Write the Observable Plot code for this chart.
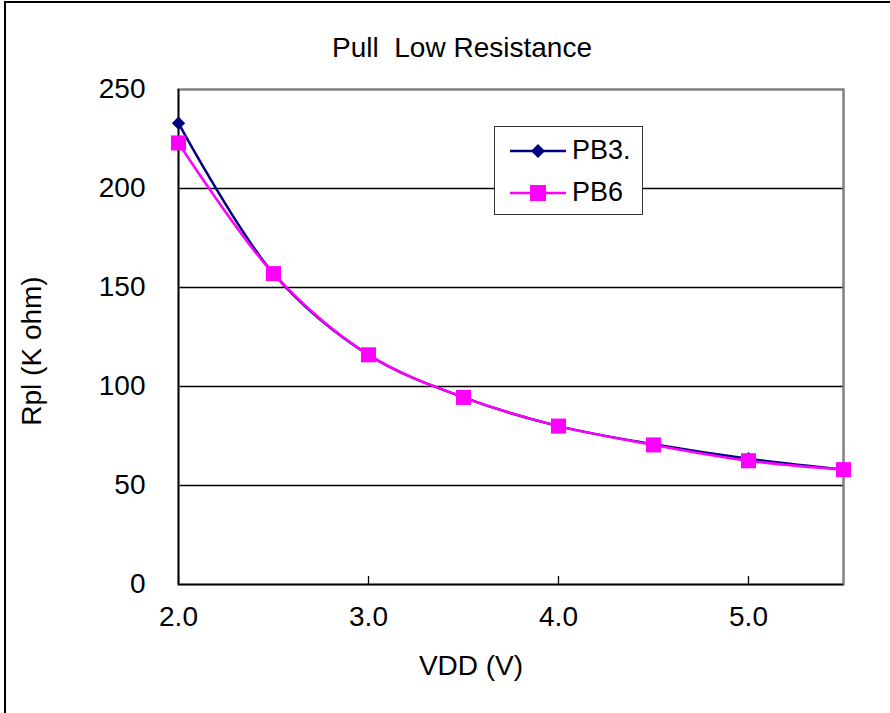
<!DOCTYPE html>
<html>
<head>
<meta charset="utf-8">
<script src="https://cdn.jsdelivr.net/npm/d3@7"></script>
<script src="https://cdn.jsdelivr.net/npm/@observablehq/plot@0.6"></script>
<style>
  html, body { margin: 0; padding: 0; background: #fff; }
  #wrap { position: relative; width: 890px; height: 713px; overflow: hidden; font-family: "Liberation Sans", Arial, sans-serif; }
  #border { position: absolute; left: 4px; top: 1px; width: 900px; height: 800px; border-top: 2px solid #000; border-left: 2px solid #000; pointer-events: none; }
  #legend { position: absolute; left: 494px; top: 126px; width: 149px; height: 89px; background: #fff; border: 1.5px solid #333; box-sizing: border-box; }
  #legend .row { position: absolute; left: 14px; display: flex; align-items: center; font-size: 27px; color: #000; }
  #legend svg { margin-right: 5px; }
</style>
</head>
<body>
<div id="wrap">
  <div id="chart"></div>
  <div id="legend"></div>
  <div id="border"></div>
</div>
<script>
const vdd = [2.0, 2.5, 3.0, 3.5, 4.0, 4.5, 5.0, 5.5];
const pb3 = [233, 157, 116, 94.5, 80, 70.8, 63.5, 58];
const pb6 = [223, 157, 116, 94.5, 80, 70.5, 62.5, 58];
const seriesNames = ["PB3.", "PB6"];
const seriesColors = ["#000080", "#FF00FF"];
const xTicks = [2, 3, 4, 5];
const xTickLabels = ["2.0", "3.0", "4.0", "5.0"];
const yTicks = [0, 50, 100, 150, 200, 250];
const yGrid = [50, 100, 150, 200];
const title = "Pull  Low Resistance";
const xLabel = "VDD (V)";
const yLabel = "Rpl (K ohm)";

const dataPB3 = vdd.map((v, i) => ({x: v, y: pb3[i]}));
const dataPB6 = vdd.map((v, i) => ({x: v, y: pb6[i]}));

const W = 890, H = 713, mL = 178, mR = 47, mT = 89, mB = 129;
const plotH = H - mT - mB;
const font = "Liberation Sans, Arial, sans-serif";
const fs = 28;

const chart = Plot.plot({
  width: W, height: H,
  marginLeft: mL, marginRight: mR, marginTop: mT, marginBottom: mB,
  style: {fontFamily: font, fontSize: fs + "px", color: "#000", background: "#fff"},
  x: {domain: [2, 5.5]},
  y: {domain: [0, 250]},
  marks: [
    Plot.ruleY(yGrid, {stroke: "#000", strokeWidth: 1.3}),
    Plot.frame({stroke: "#808080", strokeWidth: 2.5}),
    Plot.ruleX([2], {stroke: "#000", strokeWidth: 1.5}),
    Plot.ruleY([0], {stroke: "#000", strokeWidth: 1.5}),
    Plot.tickX(xTicks, {x: d => d, stroke: "#000", strokeWidth: 1.3, insetTop: plotH - 8}),
    Plot.axisX({ticks: xTicks, tickSize: 0, tickPadding: 22, tickFormat: (d) => xTickLabels[xTicks.indexOf(d)], label: null, fontSize: fs}),
    Plot.axisY({ticks: yTicks, tickSize: 0, tickPadding: 33, label: null, fontSize: fs}),
    Plot.line(dataPB3, {x: "x", y: "y", stroke: seriesColors[0], strokeWidth: 2.5, curve: "catmull-rom"}),
    Plot.dot(dataPB3, {x: "x", y: "y", symbol: "diamond2", r: 6, fill: seriesColors[0], stroke: "none"}),
    Plot.line(dataPB6, {x: "x", y: "y", stroke: seriesColors[1], strokeWidth: 2.5, curve: "catmull-rom"}),
    Plot.dot(dataPB6, {x: "x", y: "y", symbol: "square", r: 8.5, fill: seriesColors[1], stroke: "none"}),
    Plot.text([title], {frameAnchor: "top", lineAnchor: "middle", textAnchor: "middle", dx: -49, dy: -41, fontSize: fs, fill: "#000", text: d => d}),
    Plot.text([xLabel], {frameAnchor: "bottom", lineAnchor: "middle", textAnchor: "middle", dx: -40, dy: 82, fontSize: fs, fill: "#000", text: d => d}),
    Plot.text([yLabel], {frameAnchor: "left", lineAnchor: "middle", textAnchor: "middle", dx: -146, dy: 14, rotate: -90, fontSize: fs, fill: "#000", text: d => d})
  ]
});
document.getElementById("chart").appendChild(chart);

// Legend
const legend = document.getElementById("legend");
const symbols = ["diamond", "square"];
seriesNames.forEach((name, i) => {
  const row = document.createElement("div");
  row.className = "row";
  row.style.top = (i === 0 ? 8 : 50) + "px";
  const sw = d3.create("svg").attr("width", 58).attr("height", 22);
  sw.append("line").attr("x1", 1).attr("x2", 57).attr("y1", 11).attr("y2", 11)
    .attr("stroke", seriesColors[i]).attr("stroke-width", 2.5);
  if (symbols[i] === "diamond") {
    sw.append("path").attr("d", "M29,4L36,11L29,18L22,11Z").attr("fill", seriesColors[i]);
  } else {
    sw.append("rect").attr("x", 21).attr("y", 3).attr("width", 16).attr("height", 16).attr("fill", seriesColors[i]);
  }
  row.appendChild(sw.node());
  const t = document.createElement("span");
  t.textContent = name;
  row.appendChild(t);
  legend.appendChild(row);
});
</script>
</body>
</html>
